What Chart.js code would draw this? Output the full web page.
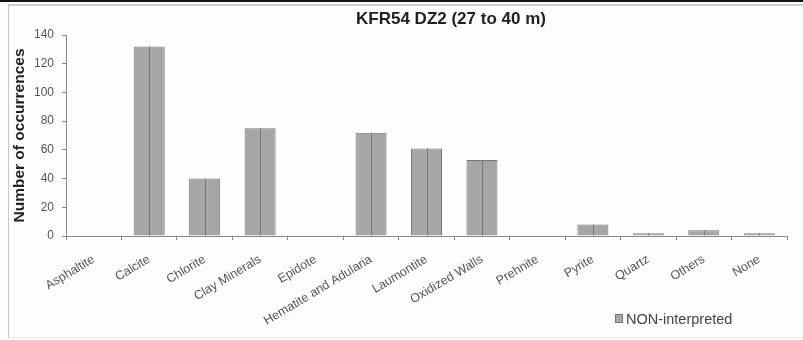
<!DOCTYPE html>
<html>
<head>
<meta charset="utf-8">
<script src="https://cdn.jsdelivr.net/npm/chart.js@4.4.0/dist/chart.umd.min.js"></script>
<style>
  body { margin: 0; background: #fff; }
  #wrap { position: relative; width: 803px; height: 340px; background: #fdfdfd; overflow: hidden; }
  #topline { position: absolute; left: 0; top: 0; width: 803px; height: 2px; background: #111; }
  #frame { position: absolute; left: 8px; top: 4px; width: 800px; height: 334px; border-left: 1px solid #c8c8c8; border-top: 2px solid #cfcfcf; border-bottom: 1px solid #e4e4e4; box-sizing: border-box; }
  #title { position: absolute; left: 331px; top: 9px; width: 240px; text-align: center; font: bold 17px "Liberation Sans", Arial, sans-serif; color: #222; white-space: nowrap; }
  #legend { position: absolute; left: 615px; top: 311px; font: 14.5px "Liberation Sans", Arial, sans-serif; color: #444; white-space: nowrap; }
  #legend span { display: inline-block; width: 6px; height: 7px; background: #a8a8a8; border: 1px solid #777; margin-right: 3px; vertical-align: 1px; }
  canvas { position: absolute; left: 0; top: 0; }
</style>
</head>
<body>
<div id="wrap">
  <div id="topline"></div>
  <div id="frame"></div>
  <canvas id="mychart" width="803" height="340"></canvas>
  <div id="title">KFR54 DZ2 (27 to 40 m)</div>
  <div id="legend"><span></span>NON-interpreted</div>
</div>
<script>
// categories on the x axis
const minerals = ['Asphaltite', 'Calcite', 'Chlorite', 'Clay Minerals', 'Epidote',
  'Hematite and Adularia', 'Laumontite', 'Oxidized Walls', 'Prehnite', 'Pyrite',
  'Quartz', 'Others', 'None'];

// number of occurrences, NON-interpreted
const nonInterpreted = [0, 132, 40, 75, 0, 72, 61, 53, 0, 8, 2, 4, 2];

// y axis ticks
const yTicks = [0, 20, 40, 60, 80, 100, 120, 140];

const seriesName = 'NON-interpreted';

// draws the thin line down the middle of every bar
const middleLine = {
  id: 'middleLine',
  afterDatasetsDraw(chart) {
    const ctx = chart.ctx;
    const meta = chart.getDatasetMeta(0);
    ctx.save();
    ctx.strokeStyle = '#7a7a7a';
    ctx.lineWidth = 1;
    meta.data.forEach(bar => {
      if (Math.abs(bar.base - bar.y) < 1) return;
      const x = Math.round(bar.x) + 0.5;
      ctx.beginPath();
      ctx.moveTo(x, bar.y);
      ctx.lineTo(x, bar.base);
      ctx.stroke();
    });
    ctx.restore();
  }
};

const ctx = document.getElementById('mychart');

new Chart(ctx, {
  type: 'bar',
  data: {
    labels: minerals,
    datasets: [{
      label: seriesName,
      data: nonInterpreted,
      backgroundColor: '#a6a6a6',
      borderColor: '#777777',
      borderWidth: 1,
      categoryPercentage: 0.56,
      barPercentage: 1
    }]
  },
  options: {
    responsive: false,
    animation: false,
    layout: { padding: { left: 10, right: 16, top: 35, bottom: 0 } },
    plugins: {
      legend: { display: false },
      title: { display: false },
      tooltip: { enabled: false }
    },
    scales: {
      x: {
        grid: { display: true, drawOnChartArea: false, tickLength: 4, color: '#888', offset: true },
        border: { color: '#888' },
        ticks: {
          minRotation: 31, maxRotation: 31, padding: 12, autoSkip: false,
          color: '#555', font: { family: 'Liberation Sans', size: 12.5 }
        },
        afterFit(scale) { scale.height = 104; }
      },
      y: {
        min: 0, max: 140,
        afterBuildTicks(scale) { scale.ticks = yTicks.map(v => ({ value: v })); },
        grid: { display: true, drawOnChartArea: false, tickLength: 4, color: '#888' },
        border: { color: '#888' },
        ticks: { padding: 8, color: '#555', font: { family: 'Liberation Sans', size: 12 } },
        title: {
          display: true, text: 'Number of occurrences', color: '#222',
          font: { family: 'Liberation Sans', size: 15.5, weight: 'bold' },
          padding: { top: 0, bottom: 0 }
        },
        afterFit(scale) { scale.width = 56; }
      }
    }
  },
  plugins: [middleLine]
});
</script>
</body>
</html>
